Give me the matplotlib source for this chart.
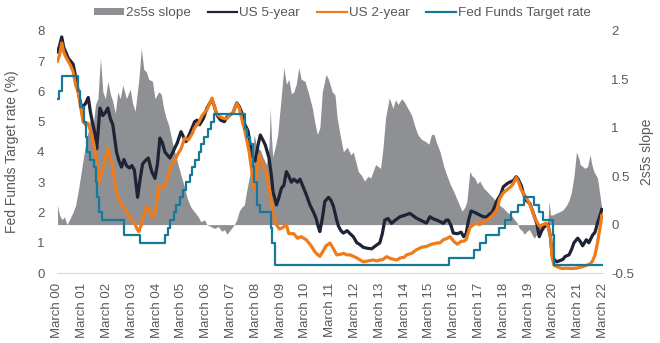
import numpy as np
import matplotlib
matplotlib.use('Agg')
import matplotlib.pyplot as plt
from matplotlib.patches import Patch
from matplotlib.lines import Line2D

plt.rcParams['font.family'] = ['Liberation Sans', 'DejaVu Sans']

# time in decimal years (March 2000 = 2000.17)
t5 = [2000.17, 2000.25, 2000.34, 2000.42, 2000.5, 2000.6, 2000.7, 2000.8, 2000.94, 2001.05,
      2001.15, 2001.3, 2001.41, 2001.5, 2001.6, 2001.68, 2001.75, 2001.82, 2001.88, 2002.0,
      2002.1, 2002.2, 2002.3, 2002.4, 2002.5, 2002.55, 2002.65, 2002.75, 2002.85, 2002.95,
      2003.07, 2003.17, 2003.27, 2003.4, 2003.5, 2003.6, 2003.7, 2003.83, 2003.97, 2004.1,
      2004.2, 2004.3, 2004.4, 2004.5, 2004.6, 2004.7, 2004.8, 2004.9, 2005.0, 2005.15,
      2005.25, 2005.35, 2005.5, 2005.6, 2005.7, 2005.8, 2005.9, 2006.05, 2006.2, 2006.3,
      2006.4, 2006.5, 2006.6, 2006.75, 2006.9, 2007.0, 2007.1, 2007.25, 2007.4, 2007.5,
      2007.6, 2007.73, 2007.85, 2007.95, 2008.05, 2008.15, 2008.25, 2008.35, 2008.45, 2008.55,
      2008.7, 2008.8, 2008.86, 2008.95, 2009.0, 2009.1, 2009.2, 2009.3, 2009.4, 2009.5,
      2009.6, 2009.7, 2009.85, 2009.95, 2010.05, 2010.2, 2010.35, 2010.5, 2010.6, 2010.68,
      2010.75, 2010.85, 2010.95, 2011.1, 2011.2, 2011.3, 2011.43, 2011.5, 2011.6, 2011.7,
      2011.85, 2011.97, 2012.1, 2012.24, 2012.35, 2012.5, 2012.65, 2012.84, 2013.0, 2013.17,
      2013.27, 2013.37, 2013.5, 2013.64, 2013.8, 2013.98, 2014.15, 2014.38, 2014.5, 2014.65,
      2014.8, 2014.92, 2015.05, 2015.19, 2015.3, 2015.46, 2015.6, 2015.73, 2015.85, 2015.93,
      2016.05, 2016.13, 2016.3, 2016.45, 2016.55, 2016.65, 2016.75, 2016.85, 2017.0, 2017.2,
      2017.34, 2017.47, 2017.6, 2017.7, 2017.8, 2017.9, 2018.05, 2018.15, 2018.3, 2018.4,
      2018.55, 2018.67, 2018.75, 2018.87, 2018.95, 2019.07, 2019.22, 2019.35, 2019.5, 2019.6,
      2019.7, 2019.8, 2019.95, 2020.05, 2020.12, 2020.2, 2020.3, 2020.4, 2020.55, 2020.65,
      2020.8, 2020.9, 2021.0, 2021.15, 2021.25, 2021.35, 2021.5, 2021.6, 2021.75, 2021.85,
      2021.95, 2022.05, 2022.12]
us5 = [7.3, 7.5, 7.8, 7.45, 7.3, 7.1, 7.0, 6.9, 6.3, 5.8,
       5.45, 5.6, 5.8, 5.3, 4.9, 4.6, 4.1, 4.8, 5.45, 5.2,
       5.3, 5.45, 5.1, 4.9, 4.3, 4.0, 3.7, 3.5, 3.75, 3.55,
       3.47, 3.55, 3.4, 2.5, 3.1, 3.6, 3.7, 3.8, 3.35, 3.13,
       3.6, 4.46, 4.3, 4.0, 3.9, 3.8, 3.95, 4.13, 4.3, 4.67,
       4.5, 4.34, 4.6, 4.8, 5.0, 5.05, 4.9, 5.1, 5.45, 5.6,
       5.72, 5.5, 5.22, 5.05, 5.0, 5.15, 5.2, 5.3, 5.62, 5.5,
       5.3, 4.9, 4.7, 4.2, 3.8, 3.7, 4.2, 4.56, 4.4, 4.23,
       3.8, 3.2, 2.69, 2.4, 2.25, 2.5, 2.8, 2.9, 3.35, 3.2,
       3.0, 3.1, 3.0, 3.1, 2.9, 2.6, 2.25, 2.0, 1.8, 1.55,
       1.37, 1.8, 2.36, 2.5, 2.4, 2.2, 1.75, 1.55, 1.4, 1.32,
       1.4, 1.3, 1.2, 1.0, 0.95, 0.85, 0.82, 0.8, 0.9, 1.0,
       1.3, 1.75, 1.8, 1.64, 1.75, 1.86, 1.9, 1.97, 1.9, 1.81,
       1.75, 1.7, 1.65, 1.86, 1.8, 1.75, 1.7, 1.64, 1.75, 1.75,
       1.55, 1.32, 1.3, 1.35, 1.2, 1.3, 1.75, 2.05, 2.0, 1.92,
       1.86, 1.85, 1.95, 2.0, 2.2, 2.4, 2.6, 2.85, 2.95, 3.0,
       3.05, 3.18, 3.1, 2.9, 2.65, 2.4, 2.3, 2.0, 1.64, 1.2,
       1.4, 1.53, 1.6, 1.2, 0.6, 0.45, 0.37, 0.4, 0.45, 0.55,
       0.6, 0.77, 1.0, 1.15, 1.05, 0.9, 1.1, 1.0, 1.25, 1.35,
       1.65, 1.9, 2.1]

t2 = [2000.17, 2000.25, 2000.34, 2000.42, 2000.5, 2000.6, 2000.7, 2000.8, 2000.9, 2001.0,
      2001.1, 2001.2, 2001.3, 2001.4, 2001.5, 2001.55, 2001.65, 2001.75, 2001.85, 2001.95,
      2002.05, 2002.2, 2002.3, 2002.4, 2002.5, 2002.55, 2002.65, 2002.75, 2002.9, 2003.0,
      2003.1, 2003.25, 2003.38, 2003.45, 2003.55, 2003.65, 2003.75, 2003.85, 2003.95, 2004.05,
      2004.15, 2004.25, 2004.4, 2004.5, 2004.6, 2004.75, 2004.9, 2005.0, 2005.15, 2005.3,
      2005.45, 2005.6, 2005.7, 2005.85, 2006.0, 2006.2, 2006.3, 2006.4, 2006.5, 2006.6,
      2006.75, 2006.9, 2007.0, 2007.1, 2007.25, 2007.4, 2007.5, 2007.6, 2007.75, 2007.9,
      2008.0, 2008.07, 2008.15, 2008.22, 2008.3, 2008.45, 2008.6, 2008.75, 2008.86, 2009.0,
      2009.12, 2009.25, 2009.4, 2009.5, 2009.7, 2009.85, 2010.0, 2010.2, 2010.4, 2010.55,
      2010.65, 2010.75, 2010.9, 2011.0, 2011.16, 2011.3, 2011.43, 2011.6, 2011.7, 2011.85,
      2011.97, 2012.1, 2012.24, 2012.4, 2012.5, 2012.7, 2012.9, 2013.05, 2013.17, 2013.3,
      2013.44, 2013.6, 2013.75, 2013.85, 2014.0, 2014.15, 2014.25, 2014.45, 2014.65, 2014.85,
      2015.05, 2015.25, 2015.46, 2015.6, 2015.73, 2015.9, 2016.0, 2016.15, 2016.3, 2016.45,
      2016.55, 2016.65, 2016.8, 2016.95, 2017.07, 2017.2, 2017.34, 2017.5, 2017.65, 2017.76,
      2017.9, 2018.0, 2018.15, 2018.3, 2018.45, 2018.55, 2018.67, 2018.77, 2018.87, 2018.95,
      2019.07, 2019.2, 2019.3, 2019.4, 2019.5, 2019.6, 2019.75, 2019.87, 2019.95, 2020.05,
      2020.12, 2020.2, 2020.35, 2020.5, 2020.7, 2020.9, 2021.1, 2021.3, 2021.5, 2021.65,
      2021.75, 2021.85, 2021.95, 2022.05, 2022.12]
us2 = [7.0, 7.2, 7.6, 7.3, 7.15, 7.0, 6.85, 6.65, 6.2, 6.0,
       5.5, 5.0, 4.9, 4.95, 4.7, 4.56, 4.2, 3.68, 3.0, 3.3,
       3.6, 4.13, 3.8, 3.5, 2.9, 2.69, 2.4, 2.25, 2.1, 1.95,
       1.8, 1.7, 1.45, 1.37, 1.6, 1.92, 2.2, 2.1, 1.9, 1.85,
       2.2, 2.9, 2.8, 2.9, 3.1, 3.57, 3.7, 3.9, 4.1, 4.46,
       4.4, 4.6, 4.8, 4.95, 5.2, 5.4, 5.6, 5.78, 5.5, 5.25,
       5.15, 5.1, 5.1, 5.2, 5.3, 5.6, 5.45, 5.1, 4.6, 4.0,
       3.4, 2.9, 2.7, 3.4, 3.9, 3.6, 3.3, 2.6, 2.0, 1.6,
       1.45, 1.5, 1.6, 1.3, 1.3, 1.15, 1.2, 1.1, 0.9, 0.7,
       0.62, 0.55, 0.75, 0.9, 0.99, 0.8, 0.6, 0.62, 0.65, 0.6,
       0.6, 0.55, 0.5, 0.42, 0.37, 0.4, 0.43, 0.4, 0.43, 0.45,
       0.54, 0.48, 0.45, 0.43, 0.5, 0.52, 0.6, 0.65, 0.77, 0.85,
       0.88, 0.95, 0.99, 1.0, 1.1, 1.15, 1.2, 1.05, 0.95, 1.05,
       1.05, 1.1, 1.5, 1.6, 1.64, 1.6, 1.7, 1.75, 1.85, 1.95,
       2.1, 2.45, 2.65, 2.75, 2.85, 2.95, 3.15, 3.0, 2.75, 2.65,
       2.5, 2.3, 2.1, 1.85, 1.7, 1.55, 1.6, 1.65, 1.55, 1.2,
       0.5, 0.25, 0.2, 0.15, 0.16, 0.15, 0.16, 0.2, 0.25, 0.3,
       0.4, 0.6, 1.0, 1.5, 1.9]

# Fed Funds target: change dates and new levels
t_ff = [2000.17, 2000.22, 2000.37, 2001.0, 2001.08, 2001.22, 2001.3, 2001.37, 2001.49, 2001.64,
        2001.71, 2001.75, 2001.85, 2001.95, 2002.85, 2003.48, 2004.5, 2004.61, 2004.72, 2004.86,
        2004.95, 2005.09, 2005.22, 2005.34, 2005.5, 2005.61, 2005.72, 2005.86, 2005.95, 2006.08,
        2006.24, 2006.36, 2006.5, 2007.72, 2007.83, 2007.95, 2008.06, 2008.08, 2008.21, 2008.33,
        2008.77, 2008.83, 2008.96, 2015.96, 2016.96, 2017.21, 2017.46, 2017.96, 2018.22, 2018.46,
        2018.74, 2018.97, 2019.4, 2019.58, 2019.74, 2020.14, 2020.18, 2022.12]
fed_funds = [5.75, 6.0, 6.5, 6.0, 5.5, 5.0, 4.5, 4.0, 3.75, 3.5,
             3.0, 2.5, 2.0, 1.75, 1.25, 1.0, 1.25, 1.5, 1.75, 2.0,
             2.25, 2.5, 2.75, 3.0, 3.25, 3.5, 3.75, 4.0, 4.25, 4.5,
             4.75, 5.0, 5.25, 4.75, 4.5, 4.25, 3.5, 3.0, 2.25, 2.0,
             1.5, 1.0, 0.25, 0.5, 0.75, 1.0, 1.25, 1.5, 1.75, 2.0,
             2.25, 2.5, 2.25, 2.0, 1.75, 1.25, 0.25, 0.25]

t_sl = [2000.17, 2000.25, 2000.35, 2000.45, 2000.55, 2000.65, 2000.8, 2000.9, 2001.0, 2001.1,
        2001.25, 2001.4, 2001.5, 2001.6, 2001.7, 2001.8, 2001.9, 2002.0, 2002.1, 2002.2,
        2002.3, 2002.4, 2002.5, 2002.6, 2002.7, 2002.8, 2002.95, 2003.1, 2003.2, 2003.3,
        2003.45, 2003.55, 2003.65, 2003.75, 2003.85, 2004.0, 2004.1, 2004.25, 2004.35, 2004.45,
        2004.55, 2004.65, 2004.8, 2004.9, 2005.0, 2005.15, 2005.3, 2005.4, 2005.55, 2005.7,
        2005.85, 2005.95, 2006.1, 2006.2, 2006.35, 2006.5, 2006.65, 2006.8, 2006.9, 2007.0,
        2007.15, 2007.3, 2007.4, 2007.5, 2007.6, 2007.7, 2007.8, 2007.9, 2008.0, 2008.1,
        2008.2, 2008.35, 2008.45, 2008.6, 2008.7, 2008.75, 2008.8, 2008.85, 2008.95, 2009.05,
        2009.15, 2009.3, 2009.4, 2009.5, 2009.6, 2009.7, 2009.8, 2009.9, 2010.0, 2010.15,
        2010.3, 2010.45, 2010.55, 2010.65, 2010.75, 2010.85, 2011.0, 2011.1, 2011.25, 2011.36,
        2011.45, 2011.55, 2011.7, 2011.85, 2012.0, 2012.1, 2012.2, 2012.3, 2012.45, 2012.55,
        2012.7, 2012.8, 2012.9, 2013.0, 2013.2, 2013.3, 2013.4, 2013.55, 2013.7, 2013.8,
        2013.9, 2014.05, 2014.15, 2014.3, 2014.45, 2014.6, 2014.7, 2014.85, 2015.0, 2015.15,
        2015.25, 2015.36, 2015.45, 2015.6, 2015.75, 2015.87, 2016.0, 2016.15, 2016.3, 2016.48,
        2016.6, 2016.68, 2016.8, 2016.9, 2017.0, 2017.1, 2017.2, 2017.35, 2017.5, 2017.65,
        2017.76, 2017.9, 2018.0, 2018.15, 2018.3, 2018.45, 2018.55, 2018.7, 2018.8, 2018.9,
        2019.0, 2019.1, 2019.2, 2019.3, 2019.4, 2019.5, 2019.6, 2019.75, 2019.87, 2019.95,
        2020.0, 2020.05, 2020.15, 2020.3, 2020.4, 2020.55, 2020.7, 2020.8, 2020.9, 2021.0,
        2021.1, 2021.2, 2021.25, 2021.35, 2021.45, 2021.55, 2021.65, 2021.72, 2021.8, 2021.95,
        2022.05, 2022.12]
slope = [0.2, 0.1, 0.05, 0.08, 0.0, 0.05, 0.13, 0.2, 0.34, 0.5,
         0.75, 0.95, 1.1, 1.0, 1.24, 1.3, 1.72, 1.37, 1.3, 1.48,
         1.35, 1.27, 1.15, 1.37, 1.3, 1.44, 1.3, 1.4, 1.25, 1.17,
         1.5, 1.82, 1.6, 1.58, 1.5, 1.48, 1.3, 1.37, 1.35, 1.2,
         1.1, 1.03, 0.85, 0.75, 0.65, 0.51, 0.38, 0.27, 0.18, 0.13,
         0.08, 0.03, 0.05, 0.0, -0.02, -0.04, -0.02, -0.07, -0.05, -0.1,
         -0.05, 0.0, 0.05, 0.14, 0.18, 0.2, 0.35, 0.48, 0.6, 0.93,
         0.8, 0.77, 0.7, 0.62, 0.8, 1.2, 0.9, 0.7, 0.8, 0.93,
         1.2, 1.62, 1.45, 1.5, 1.35, 1.37, 1.45, 1.62, 1.5, 1.48,
         1.35, 1.2, 1.05, 0.93, 1.0, 1.37, 1.55, 1.5, 1.37, 1.34,
         1.1, 0.95, 0.75, 0.8, 0.72, 0.75, 0.65, 0.55, 0.5, 0.45,
         0.5, 0.48, 0.55, 0.62, 0.58, 0.8, 1.1, 1.31, 1.2, 1.29,
         1.24, 1.3, 1.27, 1.2, 1.13, 1.0, 0.93, 0.88, 0.86, 0.83,
         0.93, 0.93, 0.85, 0.75, 0.6, 0.51, 0.42, 0.34, 0.25, 0.14,
         0.18, 0.24, 0.55, 0.5, 0.48, 0.42, 0.45, 0.38, 0.34, 0.3,
         0.27, 0.22, 0.2, 0.17, 0.13, 0.1, 0.07, 0.02, -0.04, -0.06,
         -0.1, -0.07, -0.05, -0.1, -0.14, -0.1, -0.07, -0.03, 0.0, 0.05,
         0.24, 0.1, 0.1, 0.12, 0.13, 0.15, 0.2, 0.25, 0.34, 0.5,
         0.75, 0.68, 0.62, 0.6, 0.58, 0.6, 0.72, 0.62, 0.55, 0.48,
         0.3, 0.17]

tick_years = list(range(2000, 2023))
tick_labels = ['March %02d' % (y % 100) for y in tick_years]

c_grey = '#8e9094'
c_black = '#1e2335'
c_orange = '#ef7b1b'
c_teal = '#17799a'
c_text = '#595959'

fig = plt.figure(figsize=(6.6, 3.43), dpi=100)
ax = fig.add_axes([0.0864, 0.204, 0.8272, 0.706])
ax2 = ax.twinx()

ax2.fill_between(t_sl, 0, slope, color=c_grey, linewidth=0)
ax.plot(t5, us5, color=c_black, lw=2.3, solid_joinstyle='round')
ax.plot(t2, us2, color=c_orange, lw=2.3, solid_joinstyle='round')
ax.plot(t_ff, fed_funds, color=c_teal, lw=1.6, drawstyle='steps-post')

# keep the area behind the lines
ax.set_zorder(ax2.get_zorder() + 1)
ax.patch.set_visible(False)

ax.set_xlim(2000.15, 2022.17)
ax.set_ylim(0, 8)
ax2.set_ylim(-0.5, 2)
ax.set_yticks(range(0, 9))
ax2.set_yticks([-0.5, 0, 0.5, 1, 1.5, 2])
ax2.set_yticklabels(['-0.5', '0', '0.5', '1', '1.5', '2'])
ax.set_xticks([y + 2 / 12 for y in tick_years])
ax.set_xticklabels(tick_labels, rotation=90)

for a in (ax, ax2):
    for s in a.spines.values():
        s.set_visible(False)
    a.tick_params(length=0, colors=c_text, labelsize=9.5)
ax.spines['bottom'].set_visible(True)
ax.spines['bottom'].set_color('#d9d9d9')
ax.tick_params(axis='x', pad=7)
ax.tick_params(axis='y', pad=9)
ax2.tick_params(axis='y', pad=6)

ax.set_ylabel('Fed Funds Target rate (%)', color=c_text, fontsize=10)
ax.yaxis.set_label_coords(-0.069, 0.5)
ax2.set_ylabel('2s5s slope', color=c_text, fontsize=10, rotation=90)
ax2.yaxis.set_label_coords(1.068, 0.5)

handles = [Patch(facecolor=c_grey, edgecolor='none'),
           Line2D([], [], color=c_black, lw=1.6),
           Line2D([], [], color=c_orange, lw=1.6),
           Line2D([], [], color=c_teal, lw=1.6)]
names = ['2s5s slope', 'US 5-year', 'US 2-year', 'Fed Funds Target rate']
leg = fig.legend(handles, names, loc='center', bbox_to_anchor=(0.519, 0.962), ncol=4,
                 frameon=False, fontsize=9.7, handlelength=2.2, handleheight=0.4,
                 handletextpad=0.15, columnspacing=1.25, labelcolor=c_text)

fig.savefig('out.png', dpi=100)
